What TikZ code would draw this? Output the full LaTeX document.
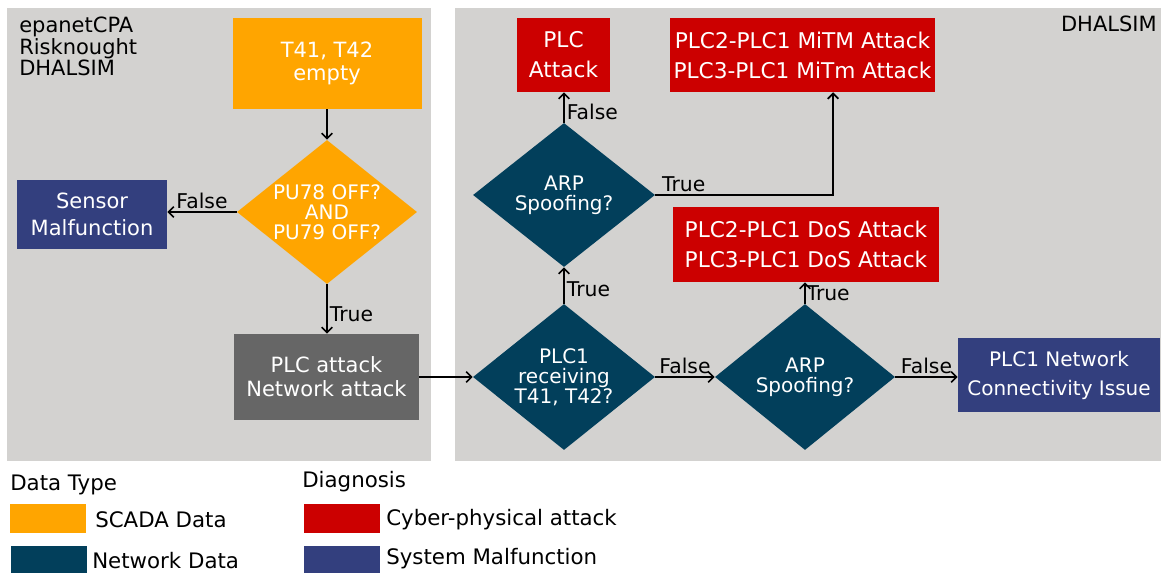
\documentclass[tikz,border=0pt]{standalone}
\usepackage{fontspec}
\setmainfont{DejaVu Sans}
\usetikzlibrary{shapes.geometric,calc,arrows.meta}
\definecolor{panel}{HTML}{D3D2D0}
\definecolor{scada}{HTML}{FFA500}
\definecolor{netw}{HTML}{023F5B}
\definecolor{cyber}{HTML}{CC0000}
\definecolor{malf}{HTML}{333F7E}
\definecolor{atk}{HTML}{666666}
\begin{document}
\begin{tikzpicture}[x=0.75pt,y=-0.75pt,
  box/.style={rectangle, inner sep=0pt, align=center, text=white},
  dia/.style={diamond, inner sep=0pt, minimum width=135pt, minimum height=108pt},
  dlabel/.style={text=white, align=center, inner sep=0pt, font=\fontsize{15}{15}\selectfont},
  arr/.style={draw=black, line width=1.3pt, -{Straight Barb[length=4pt,width=8pt,line width=1.3pt]}},
  lbl/.style={font=\fontsize{15.25}{15.25}\selectfont, inner sep=1.5pt, text=black},
  legtxt/.style={anchor=base west, inner sep=0pt, font=\fontsize{16}{16}\selectfont},
  swatch/.style={rectangle, inner sep=0pt, minimum width=57pt, minimum height=21.75pt},
  redtxt/.style={font=\fontsize{16.25}{22.5}\selectfont}
]
\useasboundingbox (0,0) rectangle (1163,573);
% panels
\fill[panel] (7,8) rectangle (431,461);
\fill[panel] (455,8) rectangle (1161,461);
\node[anchor=north west, align=left, inner sep=0pt, font=\fontsize{15.75}{16.1}\selectfont] (src) at (19,17) {epanetCPA\\Risknought\\DHALSIM};
\node[anchor=base east, inner sep=0pt, font=\fontsize{15.75}{16}\selectfont] (dh) at (1157,32) {DHALSIM};

% nodes
\node[box, fill=scada, minimum width=141.75pt, minimum height=68.25pt, font=\fontsize{15.75}{17.25}\selectfont] (tank) at (327,63.5) {T41, T42\\empty};
\node[dia, fill=scada, label={[dlabel]center:{PU78 OFF?\\AND\\PU79 OFF?}}] (pu) at (327,212) {};
\node[box, fill=malf, minimum width=112.5pt, minimum height=51.75pt, font=\fontsize{15.75}{20.25}\selectfont] (sensor) at (92,214.5) {Sensor\\Malfunction};
\node[box, fill=atk, minimum width=138.75pt, minimum height=64.5pt, font=\fontsize{15.75}{18}\selectfont] (plcnet) at (326.5,377) {PLC attack\\Network attack};
\node[dia, fill=netw, minimum width=136.5pt, minimum height=109.5pt, label={[dlabel]center:{PLC1\\receiving\\T41, T42?}}] (plc1) at (564,377) {};
\node[dia, fill=netw, minimum width=136.5pt, minimum height=108pt, label={[dlabel]center:{ARP\\Spoofing?}}] (arp1) at (564,195) {};
\node[box, fill=cyber, minimum width=69.75pt, minimum height=55.5pt, redtxt] (plcatk) at (563.5,55) {PLC\\Attack};
\node[box, fill=cyber, minimum width=198.75pt, minimum height=55.5pt, redtxt] (mitm) at (802.5,55) {PLC2-PLC1 MiTM Attack\\PLC3-PLC1 MiTm Attack};
\node[box, fill=cyber, minimum width=199.5pt, minimum height=56.25pt, redtxt] (dos) at (806,244.5) {PLC2-PLC1 DoS Attack\\PLC3-PLC1 DoS Attack};
\node[dia, fill=netw, minimum width=135pt, minimum height=109.5pt, label={[dlabel]center:{ARP\\Spoofing?}}] (arp2) at (805,377) {};
\node[box, fill=malf, minimum width=151.5pt, minimum height=55.5pt, font=\fontsize{15}{21.75}\selectfont] (connbox) at (1059,375) {PLC1 Network\\Connectivity Issue};

% connectors
\draw[arr] (tank.south) -- (pu.north);
\draw[arr] (pu.west) -- node[lbl, above] {False} (pu.west -| sensor.east);
\draw[arr] (pu.south) -- node[lbl, right, pos=0.6] {True} (pu.south |- plcnet.north);
\draw[arr] (plcnet.east) -- (plcnet.east -| plc1.west);
\draw[arr] (plc1.north) -- node[lbl, right, pos=0.4] {True} (arp1.south);
\draw[arr] (arp1.north) -- node[lbl, right, pos=0.35] {False} (arp1.north |- plcatk.south);
\coordinate (mitmin) at ($(mitm.south west)!0.615!(mitm.south east)$);
\draw[arr] (arp1.east) -- node[lbl, anchor=south west, pos=0, xshift=3pt] {True} (arp1.east -| mitmin) -- (mitmin);
\draw[arr] (plc1.east) -- node[lbl, above] {False} (arp2.west);
\draw[arr] (arp2.north) -- node[lbl, right, pos=0.5, inner sep=0.5pt] {True} (arp2.north |- dos.south);
\draw[arr] (arp2.east) -- node[lbl, above] {False} (arp2.east -| connbox.west);

% legend
\node[legtxt] (ldt) at (10,490) {Data Type};
\node[swatch, fill=scada] (sw1) at (48,518.5) {};
\node[legtxt] (l1) at (95,527) {SCADA Data};
\node[swatch, fill=netw, minimum height=20.25pt] (sw2) at (49,559.5) {};
\node[legtxt] (l2) at (92,568) {Network Data};
\node[legtxt] (ldg) at (302,487) {Diagnosis};
\node[swatch, fill=cyber] (sw3) at (342,518.5) {};
\node[legtxt] (l3) at (386,525) {Cyber-physical attack};
\node[swatch, fill=malf, minimum height=20.25pt] (sw4) at (342,559.5) {};
\node[legtxt] (l4) at (386,564) {System Malfunction};
\end{tikzpicture}
\end{document}
